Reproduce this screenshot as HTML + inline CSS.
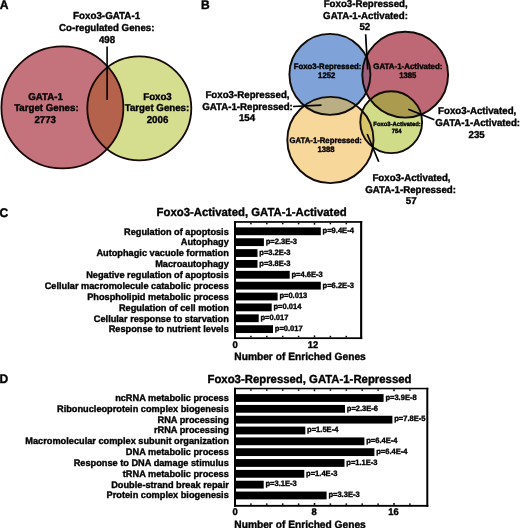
<!DOCTYPE html>
<html><head><meta charset="utf-8"><title>Figure</title>
<style>html,body{margin:0;padding:0;background:#fff;}svg{display:block;font-family:'Liberation Sans', Arial, Helvetica, sans-serif;font-weight:bold;fill:#000;}text{text-rendering:geometricPrecision;stroke:#000;stroke-width:0.38px;stroke-linejoin:round;}</style>
</head><body>
<svg width="520" height="528" viewBox="0 0 520 528">
<rect x="0" y="0" width="520" height="528" fill="#ffffff"/>
<defs>
<clipPath id="cA1"><circle cx="62.4" cy="107.4" r="61.0"/></clipPath>
<clipPath id="cBb"><circle cx="329.9" cy="74.4" r="40.5"/></clipPath>
<clipPath id="cBr"><circle cx="405.2" cy="74.7" r="42.9"/></clipPath>
<clipPath id="cBo"><circle cx="330.4" cy="140.0" r="43.1"/></clipPath>
</defs>
<circle cx="62.4" cy="107.4" r="61.0" fill="#c4727c"/>
<circle cx="139.3" cy="108.3" r="52.0" fill="#d5dd8e"/>
<circle cx="139.3" cy="108.3" r="52.0" fill="#b4624c" clip-path="url(#cA1)"/>
<circle cx="62.4" cy="107.4" r="61.0" fill="none" stroke="#160806" stroke-width="1.8"/>
<circle cx="139.3" cy="108.3" r="52.0" fill="none" stroke="#160806" stroke-width="1.8"/>
<line x1="107.1" y1="46.6" x2="107.1" y2="100" stroke="#000" stroke-width="1.6"/>
<text x="-0.3" y="8.7" font-size="12.46" text-anchor="start" textLength="8.74" lengthAdjust="spacingAndGlyphs">A</text>
<text x="106.6" y="19.3" font-size="10.09" text-anchor="middle" textLength="67.15" lengthAdjust="spacingAndGlyphs">Foxo3-GATA-1</text>
<text x="106.8" y="30.8" font-size="9.99" text-anchor="middle" textLength="95.40" lengthAdjust="spacingAndGlyphs">Co-regulated Genes:</text>
<text x="107" y="42.8" font-size="9.99" text-anchor="middle" textLength="16.18" lengthAdjust="spacingAndGlyphs">498</text>
<text x="45.5" y="99.7" font-size="9.99" text-anchor="middle" textLength="34.67" lengthAdjust="spacingAndGlyphs">GATA-1</text>
<text x="46.4" y="111.25" font-size="9.99" text-anchor="middle" textLength="64.51" lengthAdjust="spacingAndGlyphs">Target Genes:</text>
<text x="45.2" y="122.8" font-size="9.99" text-anchor="middle" textLength="21.58" lengthAdjust="spacingAndGlyphs">2773</text>
<text x="157.5" y="99.7" font-size="9.99" text-anchor="middle" textLength="28.57" lengthAdjust="spacingAndGlyphs">Foxo3</text>
<text x="157" y="111.25" font-size="9.99" text-anchor="middle" textLength="64.51" lengthAdjust="spacingAndGlyphs">Target Genes:</text>
<text x="157.5" y="122.8" font-size="9.99" text-anchor="middle" textLength="21.58" lengthAdjust="spacingAndGlyphs">2006</text>
<circle cx="330.4" cy="140.0" r="43.1" fill="#f8d79b"/>
<circle cx="329.9" cy="74.4" r="40.5" fill="#7fa3d8"/>
<circle cx="405.2" cy="74.7" r="42.9" fill="#bf6875"/>
<circle cx="391.2" cy="122.2" r="30.9" fill="#d0dc88"/>
<circle cx="405.2" cy="74.7" r="42.9" fill="#9c5f7c" clip-path="url(#cBb)"/>
<circle cx="330.4" cy="140.0" r="43.1" fill="#b9ae84" clip-path="url(#cBb)"/>
<circle cx="391.2" cy="122.2" r="30.9" fill="#aa9b4e" clip-path="url(#cBr)"/>
<circle cx="391.2" cy="122.2" r="30.9" fill="#d8c56a" clip-path="url(#cBo)"/>
<circle cx="330.4" cy="140.0" r="43.1" fill="none" stroke="#120c08" stroke-width="1.9"/>
<circle cx="329.9" cy="74.4" r="40.5" fill="none" stroke="#120c08" stroke-width="1.9"/>
<circle cx="405.2" cy="74.7" r="42.9" fill="none" stroke="#120c08" stroke-width="1.9"/>
<circle cx="391.2" cy="122.2" r="30.9" fill="none" stroke="#120c08" stroke-width="1.9"/>
<line x1="365.6" y1="34.3" x2="367.7" y2="69.5" stroke="#000" stroke-width="1.7"/>
<line x1="293" y1="106.5" x2="321.5" y2="105.2" stroke="#000" stroke-width="1.7"/>
<line x1="408.3" y1="109.2" x2="434.3" y2="119.8" stroke="#000" stroke-width="1.7"/>
<line x1="367.2" y1="134" x2="378.7" y2="161.8" stroke="#000" stroke-width="1.7"/>
<text x="201.0" y="8.7" font-size="12.46" text-anchor="start" textLength="8.74" lengthAdjust="spacingAndGlyphs">B</text>
<text x="365.7" y="7.0" font-size="9.99" text-anchor="middle" textLength="84.10" lengthAdjust="spacingAndGlyphs">Foxo3-Repressed,</text>
<text x="365.5" y="18.75" font-size="9.99" text-anchor="middle" textLength="84.79" lengthAdjust="spacingAndGlyphs">GATA-1-Activated:</text>
<text x="364.8" y="30.4" font-size="9.99" text-anchor="middle" textLength="10.79" lengthAdjust="spacingAndGlyphs">52</text>
<text x="247.5" y="98" font-size="9.99" text-anchor="middle" textLength="84.10" lengthAdjust="spacingAndGlyphs">Foxo3-Repressed,</text>
<text x="247.5" y="110" font-size="9.99" text-anchor="middle" textLength="90.73" lengthAdjust="spacingAndGlyphs">GATA-1-Repressed:</text>
<text x="247" y="121" font-size="9.99" text-anchor="middle" textLength="16.18" lengthAdjust="spacingAndGlyphs">154</text>
<text x="477.2" y="114.25" font-size="9.99" text-anchor="middle" textLength="78.16" lengthAdjust="spacingAndGlyphs">Foxo3-Activated,</text>
<text x="477.7" y="126.1" font-size="9.99" text-anchor="middle" textLength="84.79" lengthAdjust="spacingAndGlyphs">GATA-1-Activated:</text>
<text x="476.6" y="137.5" font-size="9.99" text-anchor="middle" textLength="16.18" lengthAdjust="spacingAndGlyphs">235</text>
<text x="411.5" y="181.25" font-size="9.99" text-anchor="middle" textLength="78.16" lengthAdjust="spacingAndGlyphs">Foxo3-Activated,</text>
<text x="410.6" y="192.5" font-size="9.99" text-anchor="middle" textLength="90.73" lengthAdjust="spacingAndGlyphs">GATA-1-Repressed:</text>
<text x="411.25" y="204.25" font-size="9.99" text-anchor="middle" textLength="10.79" lengthAdjust="spacingAndGlyphs">57</text>
<text x="327.5" y="68.75" font-size="7.97" text-anchor="middle" textLength="67.53" lengthAdjust="spacingAndGlyphs">Foxo3-Repressed:</text>
<text x="326.7" y="77.7" font-size="7.97" text-anchor="middle" textLength="17.22" lengthAdjust="spacingAndGlyphs">1252</text>
<text x="407.9" y="68.75" font-size="8.14" text-anchor="middle" textLength="69.06" lengthAdjust="spacingAndGlyphs">GATA-1-Activated:</text>
<text x="407.75" y="78.0" font-size="7.97" text-anchor="middle" textLength="17.22" lengthAdjust="spacingAndGlyphs">1385</text>
<text x="325.75" y="142.5" font-size="7.97" text-anchor="middle" textLength="72.40" lengthAdjust="spacingAndGlyphs">GATA-1-Repressed:</text>
<text x="326" y="151.9" font-size="7.97" text-anchor="middle" textLength="17.22" lengthAdjust="spacingAndGlyphs">1388</text>
<text x="397.1" y="125.8" font-size="6.03" text-anchor="middle" textLength="47.46" lengthAdjust="spacingAndGlyphs">Foxo3-Activated:</text>
<text x="396.75" y="132.9" font-size="6.03" text-anchor="middle" textLength="9.76" lengthAdjust="spacingAndGlyphs">754</text>
<text x="-0.4" y="216.9" font-size="12.46" text-anchor="start" textLength="8.74" lengthAdjust="spacingAndGlyphs">C</text>
<text x="156.6" y="216.3" font-size="11.69" text-anchor="start" textLength="190.04" lengthAdjust="spacingAndGlyphs">Foxo3-Activated, GATA-1-Activated</text>
<rect x="234.0" y="221.1" width="2.0" height="117.95" fill="#000"/>
<rect x="360.1" y="221.1" width="2.10" height="117.95" fill="#000"/>
<rect x="234.0" y="221.1" width="128.20" height="1.70" fill="#000"/>
<rect x="234.0" y="337.3" width="128.20" height="1.75" fill="#000"/>
<rect x="250.15" y="222.8" width="1.5" height="1.5" fill="#000"/>
<rect x="250.15" y="335.80" width="1.5" height="1.5" fill="#000"/>
<rect x="266.05" y="222.8" width="1.5" height="1.5" fill="#000"/>
<rect x="266.05" y="335.80" width="1.5" height="1.5" fill="#000"/>
<rect x="281.95" y="222.8" width="1.5" height="1.5" fill="#000"/>
<rect x="281.95" y="335.80" width="1.5" height="1.5" fill="#000"/>
<rect x="297.85" y="222.8" width="1.5" height="1.5" fill="#000"/>
<rect x="297.85" y="335.80" width="1.5" height="1.5" fill="#000"/>
<rect x="313.75" y="222.8" width="1.5" height="1.9" fill="#000"/>
<rect x="313.75" y="335.40" width="1.5" height="1.9" fill="#000"/>
<rect x="329.65" y="222.8" width="1.5" height="1.5" fill="#000"/>
<rect x="329.65" y="335.80" width="1.5" height="1.5" fill="#000"/>
<rect x="345.55" y="222.8" width="1.5" height="1.5" fill="#000"/>
<rect x="345.55" y="335.80" width="1.5" height="1.5" fill="#000"/>
<rect x="234.0" y="227.40" width="86.80" height="7.8" fill="#000"/>
<text x="228.8" y="234.60" font-size="9.48" text-anchor="end" textLength="104.78" lengthAdjust="spacingAndGlyphs">Regulation of apoptosis</text>
<text x="322.60" y="233.20" font-size="7.78" text-anchor="start" textLength="31.27" lengthAdjust="spacingAndGlyphs">p=9.4E-4</text>
<rect x="234.0" y="238.27" width="29.90" height="7.8" fill="#000"/>
<text x="228.8" y="245.47" font-size="9.48" text-anchor="end" textLength="48.04" lengthAdjust="spacingAndGlyphs">Autophagy</text>
<text x="265.70" y="244.07" font-size="7.78" text-anchor="start" textLength="31.27" lengthAdjust="spacingAndGlyphs">p=2.3E-3</text>
<rect x="234.0" y="249.14" width="23.50" height="7.8" fill="#000"/>
<text x="228.8" y="256.34" font-size="9.48" text-anchor="end" textLength="132.39" lengthAdjust="spacingAndGlyphs">Autophagic vacuole formation</text>
<text x="259.30" y="254.94" font-size="7.78" text-anchor="start" textLength="31.27" lengthAdjust="spacingAndGlyphs">p=3.2E-3</text>
<rect x="234.0" y="260.01" width="23.50" height="7.8" fill="#000"/>
<text x="228.8" y="267.21" font-size="9.48" text-anchor="end" textLength="73.61" lengthAdjust="spacingAndGlyphs">Macroautophagy</text>
<text x="259.30" y="265.81" font-size="7.78" text-anchor="start" textLength="31.27" lengthAdjust="spacingAndGlyphs">p=3.8E-3</text>
<rect x="234.0" y="270.88" width="55.70" height="7.8" fill="#000"/>
<text x="228.8" y="278.08" font-size="9.48" text-anchor="end" textLength="142.62" lengthAdjust="spacingAndGlyphs">Negative regulation of apoptosis</text>
<text x="291.50" y="276.68" font-size="7.78" text-anchor="start" textLength="31.27" lengthAdjust="spacingAndGlyphs">p=4.6E-3</text>
<rect x="234.0" y="281.75" width="86.80" height="7.8" fill="#000"/>
<text x="228.8" y="288.95" font-size="9.48" text-anchor="end" textLength="184.08" lengthAdjust="spacingAndGlyphs">Cellular macromolecule catabolic process</text>
<text x="322.60" y="287.55" font-size="7.78" text-anchor="start" textLength="31.27" lengthAdjust="spacingAndGlyphs">p=6.2E-3</text>
<rect x="234.0" y="292.62" width="43.60" height="7.8" fill="#000"/>
<text x="228.8" y="299.82" font-size="9.48" text-anchor="end" textLength="141.61" lengthAdjust="spacingAndGlyphs">Phospholipid metabolic process</text>
<text x="279.40" y="298.42" font-size="7.78" text-anchor="start" textLength="27.91" lengthAdjust="spacingAndGlyphs">p=0.013</text>
<rect x="234.0" y="303.49" width="37.70" height="7.8" fill="#000"/>
<text x="228.8" y="310.69" font-size="9.48" text-anchor="end" textLength="109.89" lengthAdjust="spacingAndGlyphs">Regulation of cell motion</text>
<text x="273.50" y="309.29" font-size="7.78" text-anchor="start" textLength="27.91" lengthAdjust="spacingAndGlyphs">p=0.014</text>
<rect x="234.0" y="314.36" width="24.70" height="7.8" fill="#000"/>
<text x="228.8" y="321.56" font-size="9.48" text-anchor="end" textLength="134.97" lengthAdjust="spacingAndGlyphs">Cellular response to starvation</text>
<text x="260.50" y="320.16" font-size="7.78" text-anchor="start" textLength="27.91" lengthAdjust="spacingAndGlyphs">p=0.017</text>
<rect x="234.0" y="325.23" width="39.00" height="7.8" fill="#000"/>
<text x="228.8" y="332.43" font-size="9.48" text-anchor="end" textLength="120.14" lengthAdjust="spacingAndGlyphs">Response to nutrient levels</text>
<text x="274.80" y="331.03" font-size="7.78" text-anchor="start" textLength="27.91" lengthAdjust="spacingAndGlyphs">p=0.017</text>
<text x="235.0" y="347.5" font-size="9.68" text-anchor="middle" textLength="5.23" lengthAdjust="spacingAndGlyphs">0</text>
<text x="313.1" y="347.5" font-size="9.68" text-anchor="middle" textLength="10.46" lengthAdjust="spacingAndGlyphs">12</text>
<text x="234.3" y="360.1" font-size="10.51" text-anchor="start" textLength="131.50" lengthAdjust="spacingAndGlyphs">Number of Enriched Genes</text>
<text x="-0.4" y="382.8" font-size="12.46" text-anchor="start" textLength="8.74" lengthAdjust="spacingAndGlyphs">D</text>
<text x="207.5" y="382.5" font-size="11.69" text-anchor="start" textLength="203.94" lengthAdjust="spacingAndGlyphs">Foxo3-Repressed, GATA-1-Repressed</text>
<rect x="234.0" y="387.8" width="2.0" height="118.95" fill="#000"/>
<rect x="426.3" y="387.8" width="2.00" height="118.95" fill="#000"/>
<rect x="234.0" y="387.8" width="194.30" height="1.50" fill="#000"/>
<rect x="234.0" y="504.9" width="194.30" height="1.85" fill="#000"/>
<rect x="250.15" y="389.3" width="1.5" height="1.5" fill="#000"/>
<rect x="250.15" y="503.40" width="1.5" height="1.5" fill="#000"/>
<rect x="266.05" y="389.3" width="1.5" height="1.5" fill="#000"/>
<rect x="266.05" y="503.40" width="1.5" height="1.5" fill="#000"/>
<rect x="281.95" y="389.3" width="1.5" height="1.5" fill="#000"/>
<rect x="281.95" y="503.40" width="1.5" height="1.5" fill="#000"/>
<rect x="297.85" y="389.3" width="1.5" height="1.5" fill="#000"/>
<rect x="297.85" y="503.40" width="1.5" height="1.5" fill="#000"/>
<rect x="313.75" y="389.3" width="1.5" height="1.9" fill="#000"/>
<rect x="313.75" y="503.00" width="1.5" height="1.9" fill="#000"/>
<rect x="329.65" y="389.3" width="1.5" height="1.5" fill="#000"/>
<rect x="329.65" y="503.40" width="1.5" height="1.5" fill="#000"/>
<rect x="345.55" y="389.3" width="1.5" height="1.5" fill="#000"/>
<rect x="345.55" y="503.40" width="1.5" height="1.5" fill="#000"/>
<rect x="361.45" y="389.3" width="1.5" height="1.5" fill="#000"/>
<rect x="361.45" y="503.40" width="1.5" height="1.5" fill="#000"/>
<rect x="377.35" y="389.3" width="1.5" height="1.5" fill="#000"/>
<rect x="377.35" y="503.40" width="1.5" height="1.5" fill="#000"/>
<rect x="393.25" y="389.3" width="1.5" height="1.9" fill="#000"/>
<rect x="393.25" y="503.00" width="1.5" height="1.9" fill="#000"/>
<rect x="409.15" y="389.3" width="1.5" height="1.5" fill="#000"/>
<rect x="409.15" y="503.40" width="1.5" height="1.5" fill="#000"/>
<rect x="234.0" y="394.10" width="149.60" height="7.8" fill="#000"/>
<text x="228.8" y="401.00" font-size="9.48" text-anchor="end" textLength="113.67" lengthAdjust="spacingAndGlyphs">ncRNA metabolic process</text>
<text x="385.40" y="399.80" font-size="7.78" text-anchor="start" textLength="31.27" lengthAdjust="spacingAndGlyphs">p=3.9E-8</text>
<rect x="234.0" y="404.93" width="111.00" height="7.8" fill="#000"/>
<text x="228.8" y="411.83" font-size="9.48" text-anchor="end" textLength="171.76" lengthAdjust="spacingAndGlyphs">Ribonucleoprotein complex biogenesis</text>
<text x="346.80" y="410.63" font-size="7.78" text-anchor="start" textLength="31.27" lengthAdjust="spacingAndGlyphs">p=2.3E-6</text>
<rect x="234.0" y="415.76" width="158.40" height="7.8" fill="#000"/>
<text x="228.8" y="422.66" font-size="9.48" text-anchor="end" textLength="71.23" lengthAdjust="spacingAndGlyphs">RNA processing</text>
<text x="394.20" y="421.46" font-size="7.78" text-anchor="start" textLength="31.27" lengthAdjust="spacingAndGlyphs">p=7.8E-5</text>
<rect x="234.0" y="426.59" width="71.30" height="7.8" fill="#000"/>
<text x="228.8" y="433.49" font-size="9.48" text-anchor="end" textLength="74.81" lengthAdjust="spacingAndGlyphs">rRNA processing</text>
<text x="307.10" y="432.29" font-size="7.78" text-anchor="start" textLength="31.27" lengthAdjust="spacingAndGlyphs">p=1.5E-4</text>
<rect x="234.0" y="437.42" width="130.40" height="7.8" fill="#000"/>
<text x="228.8" y="444.32" font-size="9.48" text-anchor="end" textLength="203.46" lengthAdjust="spacingAndGlyphs">Macromolecular complex subunit organization</text>
<text x="366.20" y="443.12" font-size="7.78" text-anchor="start" textLength="31.27" lengthAdjust="spacingAndGlyphs">p=6.4E-4</text>
<rect x="234.0" y="448.25" width="140.40" height="7.8" fill="#000"/>
<text x="228.8" y="455.15" font-size="9.48" text-anchor="end" textLength="102.94" lengthAdjust="spacingAndGlyphs">DNA metabolic process</text>
<text x="376.20" y="453.95" font-size="7.78" text-anchor="start" textLength="31.27" lengthAdjust="spacingAndGlyphs">p=6.4E-4</text>
<rect x="234.0" y="459.08" width="110.50" height="7.8" fill="#000"/>
<text x="228.8" y="465.98" font-size="9.48" text-anchor="end" textLength="155.07" lengthAdjust="spacingAndGlyphs">Response to DNA damage stimulus</text>
<text x="346.30" y="464.78" font-size="7.78" text-anchor="start" textLength="31.27" lengthAdjust="spacingAndGlyphs">p=1.1E-3</text>
<rect x="234.0" y="469.91" width="70.30" height="7.8" fill="#000"/>
<text x="228.8" y="476.81" font-size="9.48" text-anchor="end" textLength="106.00" lengthAdjust="spacingAndGlyphs">tRNA metabolic process</text>
<text x="306.10" y="475.61" font-size="7.78" text-anchor="start" textLength="31.27" lengthAdjust="spacingAndGlyphs">p=1.4E-3</text>
<rect x="234.0" y="480.74" width="29.70" height="7.8" fill="#000"/>
<text x="228.8" y="487.64" font-size="9.48" text-anchor="end" textLength="117.59" lengthAdjust="spacingAndGlyphs">Double-strand break repair</text>
<text x="265.50" y="486.44" font-size="7.78" text-anchor="start" textLength="31.27" lengthAdjust="spacingAndGlyphs">p=3.1E-3</text>
<rect x="234.0" y="491.57" width="92.60" height="7.8" fill="#000"/>
<text x="228.8" y="498.47" font-size="9.48" text-anchor="end" textLength="122.19" lengthAdjust="spacingAndGlyphs">Protein complex biogenesis</text>
<text x="328.40" y="497.27" font-size="7.78" text-anchor="start" textLength="31.27" lengthAdjust="spacingAndGlyphs">p=3.3E-3</text>
<text x="235.2" y="515.0" font-size="9.68" text-anchor="middle" textLength="5.23" lengthAdjust="spacingAndGlyphs">0</text>
<text x="314.0" y="515.0" font-size="9.68" text-anchor="middle" textLength="5.23" lengthAdjust="spacingAndGlyphs">8</text>
<text x="393.5" y="515.0" font-size="9.68" text-anchor="middle" textLength="10.46" lengthAdjust="spacingAndGlyphs">16</text>
<text x="234.3" y="527.7" font-size="10.51" text-anchor="start" textLength="131.50" lengthAdjust="spacingAndGlyphs">Number of Enriched Genes</text>
</svg>
</body></html>
